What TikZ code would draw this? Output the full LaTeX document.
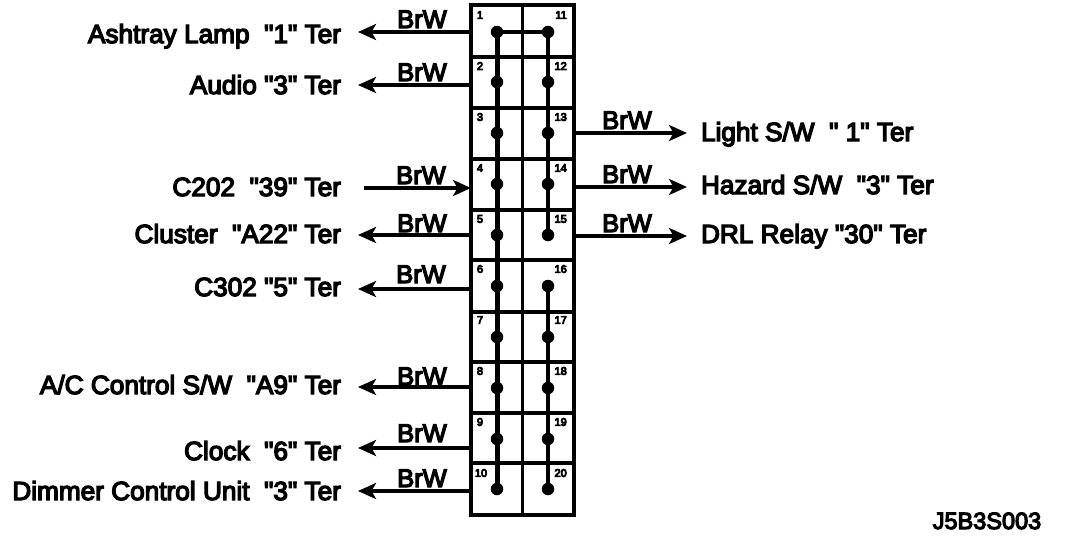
\documentclass[tikz,border=0pt]{standalone}
\usepackage{fontspec}
\newfontfamily\labfont[RawFeature={embolden=5}]{Liberation Sans}
\newfontfamily\numfont[RawFeature={embolden=8}]{Liberation Sans}
\usetikzlibrary{arrows.meta,calc}
\tikzset{
  x=1pt,y=-1pt,
  cellbox/.style={draw=black,line width=3.4pt,inner sep=0pt,outer sep=0pt,anchor=north west},
  pin/.style={circle,fill=black,inner sep=0pt,outer sep=0pt,minimum size=12.5pt},
  wire/.style={line width=3.4pt,-{Stealth[length=18pt,width=16pt,inset=4.5pt]}},
  bigbus/.style={line width=5pt},
  smallbus/.style={line width=3.4pt},
  lab/.style={font=\labfont\fontsize{26.2}{28}\selectfont,inner sep=0pt,outer sep=0pt},
  llab/.style={lab,anchor=base east},
  rlab/.style={lab,anchor=base west},
  wlab/.style={lab,anchor=base,font=\labfont\fontsize{25.5}{28}\selectfont},
  num/.style={font=\numfont\fontsize{11}{12}\selectfont,inner sep=0pt}
}
\begin{document}
\begin{tikzpicture}
\useasboundingbox[fill=white] (0,0) rectangle (1072,544);
% cells: index / top / height
\foreach \n/\t/\h/\p in {1/5/52/32,2/57/51/82,3/108/51/133,4/159/51/184,5/210/50/235,6/260/52/286,7/312/50/337,8/362/51/388,9/413/50/439,10/463/52/489}{
  \pgfmathtruncatemacro{\m}{\n+10}
  \node[cellbox,minimum width=51.5pt,minimum height=\h pt] (L\n) at (471,\t) {};
  \node[cellbox,minimum width=51.5pt,minimum height=\h pt] (R\n) at (522.5,\t) {};
  \node[pin] (p\n) at (497,\p) {};
  \node[pin] (p\m) at (548,\p) {};
}
% buses
\draw[bigbus] (p1.center) -- (p10.center);
\draw[smallbus] (p1.center) -- (p11.center);
\draw[smallbus] (p11.center) -- (p15.center);
\draw[smallbus] (p16.center) -- (p20.center);
% numbers
\foreach \n/\y in {1/15,2/66,3/117,4/168,5/219,6/269,7/320,8/371,9/422}{
  \node[num] at (480,\y) {\n};
}
\node[num] at (481,473) {10};
\foreach \n/\y in {11/15,12/66,13/117,14/168,15/219,16/269,17/320,18/371,19/422,20/473}{
  \node[num,anchor=east] at (567,\y) {\n};
}
% left labels
\node[llab] (a1) at (341,43) {Ashtray Lamp\ \ "1" Ter};
\node[llab] (a2) at (341,94) {Audio "3" Ter};
\node[llab] (a4) at (341,196) {C202\ \ "39" Ter};
\node[llab] (a5) at (341,243) {Cluster\ \ "A22" Ter};
\node[llab] (a6) at (341,296) {C302 "5" Ter};
\node[llab] (a8) at (341,394) {A/C Control S/W\ \ "A9" Ter};
\node[llab] (a9) at (341,460) {Clock\ \ "6" Ter};
\node[llab] (a10) at (341,500) {Dimmer Control Unit\ \ "3" Ter};
% right labels
\node[rlab] (b3) at (701,141) {Light S/W\ \ " 1" Ter};
\node[rlab] (b4) at (701,194) {Hazard S/W\ \ "3" Ter};
\node[rlab] (b5) at (701,243) {DRL Relay "30" Ter};
% free ends
\foreach \n/\y in {1/32,2/85,5/235,6/289,8/387,9/448,10/491}{
  \coordinate (e\n) at (358,\y);
  \draw[wire] (L\n.west |- e\n) -- (e\n);
}
\coordinate (e4) at (364,188);
\draw[wire] (e4) -- (L4.west |- e4);
\foreach \n/\y in {13/133,14/187,15/236}{
  \coordinate (e\n) at (687,\y);
  \pgfmathtruncatemacro{\k}{\n-10}
  \draw[wire] (R\k.east |- e\n) -- (e\n);
}
% wire colours
\foreach \x/\y in {422/28,422/81,421/184,422/232,421/283,422/385,422/442,422/487,627/129,627/183,627/232}{
  \node[wlab] at (\x,\y) {BrW};
}
\node[lab,anchor=base,font=\labfont\fontsize{23.5}{25}\selectfont] (code) at (987,529) {J5B3S003};
\end{tikzpicture}
\end{document}
